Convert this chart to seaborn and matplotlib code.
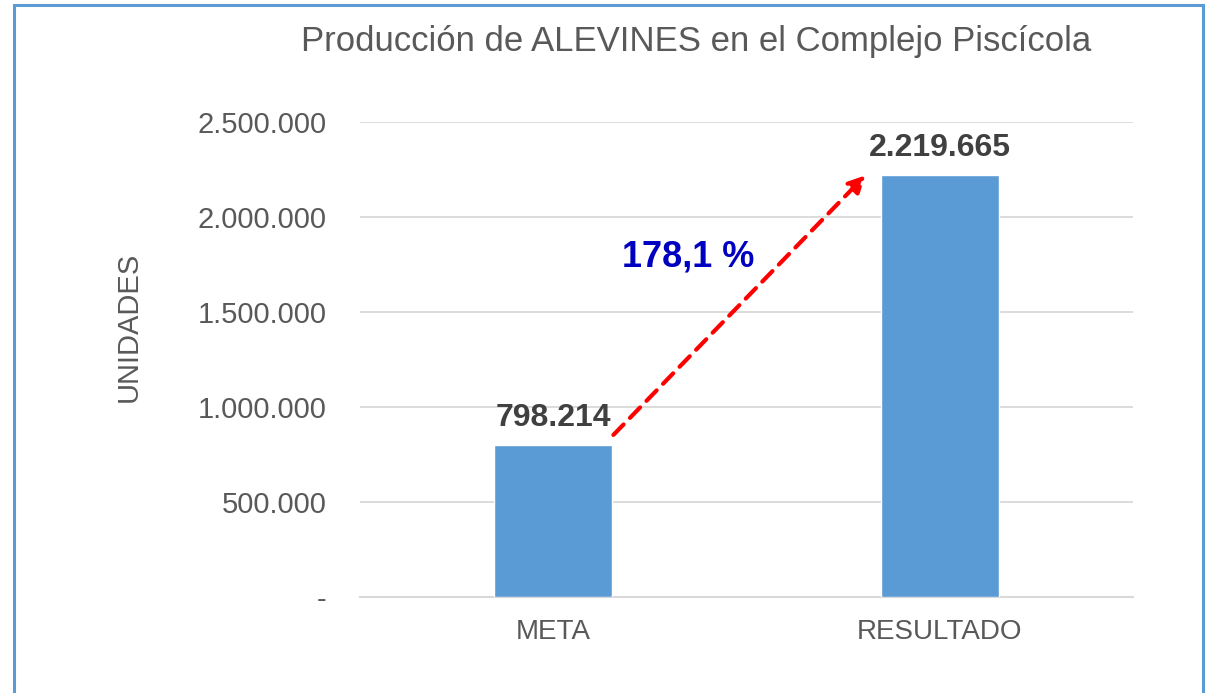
import numpy as np
import pandas as pd
import seaborn as sns
import matplotlib.pyplot as plt
from matplotlib.patches import Rectangle
from matplotlib.ticker import FuncFormatter

categorias = ['META', 'RESULTADO']
valores = [798214, 2219665]
titulo = 'Producción de ALEVINES en el Complejo Piscícola'

df = pd.DataFrame({'cat': categorias, 'val': valores})

sns.set_style('white')
plt.rcParams['font.family'] = ['Liberation Sans', 'DejaVu Sans']

fig = plt.figure(figsize=(12.12, 6.93), dpi=100)
ax = fig.add_axes([0.297, 0.1385, 0.638, 0.6854])

bar_w = 0.305
sns.barplot(data=df, x='cat', y='val', color='#5B9BD5', saturation=1,
            width=bar_w, ax=ax, zorder=3)

ax.set_ylim(0, 2500000)
ax.set_xlim(-0.5, 1.5)
ax.set_yticks(np.arange(0, 2500001, 500000))

def miles(v, pos):
    if v == 0:
        return '-'
    return f'{int(v):,}'.replace(',', '.')

ax.yaxis.set_major_formatter(FuncFormatter(miles))
ax.grid(axis='y', color='#D9D9D9', linewidth=1.3, zorder=0)
for s in ['top', 'right', 'left']:
    ax.spines[s].set_visible(False)
ax.spines['bottom'].set_color('#D9D9D9')
ax.spines['bottom'].set_linewidth(1.5)
ax.tick_params(axis='y', labelsize=21, labelcolor='#595959', length=0, pad=24)
ax.tick_params(axis='x', labelsize=20, labelcolor='#595959', length=0, pad=16)
ax.set_xlabel('')
ax.set_ylabel('UNIDADES', fontsize=21, color='#595959')
ax.yaxis.set_label_coords(-0.281, 0.568)

# etiquetas de datos
for i, v in enumerate(valores):
    ax.annotate(miles(v, None), (i, v), xytext=(0, 20), textcoords='offset points',
                ha='center', va='center', fontsize=23, fontweight='bold', color='#404040')

# flecha de crecimiento
pct = (valores[1] / valores[0] - 1) * 100
ax.annotate('', xy=(1 - bar_w / 2 - 0.04, valores[1]),
            xytext=(bar_w / 2 + 0.003, valores[0] + 55000),
            arrowprops=dict(arrowstyle='-|>', color='#FF0000', lw=3, linestyle=(0, (3.5, 2.2)),
                            mutation_scale=25, shrinkA=0, shrinkB=0), zorder=4)
ax.text(0.349, 1790000, f'{pct:.1f} %'.replace('.', ','), ha='center', va='center',
        fontsize=26, fontweight='bold', color='#0000C0')

fig.text(0.574, 0.940, titulo, ha='center', va='center', fontsize=25, color='#595959')

fig.patches.append(Rectangle((14 / 1212, -0.01), 1189 / 1212, 1 - 5 / 693 + 0.01,
                             transform=fig.transFigure, fill=False,
                             edgecolor='#5B9BD5', linewidth=2.2))

fig.savefig('out.png', dpi=100)
